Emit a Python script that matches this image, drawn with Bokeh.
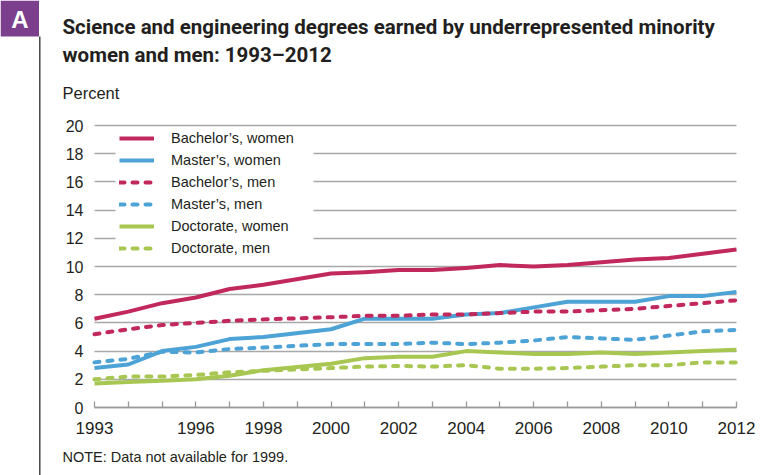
from bokeh.plotting import figure
from bokeh.models import (Label, BoxAnnotation, Legend, LegendItem, FixedTicker,
                          Grid, Range1d)
from bokeh.embed import file_html
from bokeh.resources import INLINE

years = [1993, 1994, 1995, 1996, 1997, 1998, 2000, 2001, 2002, 2003, 2004,
         2005, 2006, 2007, 2008, 2009, 2010, 2011, 2012]
bach_w = [6.3, 6.8, 7.4, 7.8, 8.4, 8.7, 9.5, 9.6, 9.75, 9.75, 9.9, 10.1,
          10.0, 10.1, 10.3, 10.5, 10.6, 10.9, 11.2]
mast_w = [2.8, 3.05, 4.0, 4.3, 4.85, 5.0, 5.55, 6.3, 6.3, 6.3, 6.6, 6.7,
          7.1, 7.5, 7.5, 7.5, 7.9, 7.9, 8.2]
bach_m = [5.2, 5.55, 5.85, 6.0, 6.15, 6.25, 6.4, 6.5, 6.5, 6.6, 6.6, 6.7,
          6.8, 6.8, 6.9, 7.0, 7.2, 7.4, 7.6]
mast_m = [3.2, 3.45, 3.95, 3.9, 4.15, 4.25, 4.5, 4.5, 4.5, 4.6, 4.5, 4.6,
          4.75, 5.0, 4.9, 4.8, 5.1, 5.4, 5.5]
doc_w = [1.7, 1.8, 1.9, 2.0, 2.25, 2.65, 3.1, 3.5, 3.6, 3.6, 4.0, 3.9,
         3.8, 3.8, 3.9, 3.8, 3.9, 4.0, 4.1]
doc_m = [2.0, 2.2, 2.2, 2.3, 2.5, 2.6, 2.8, 2.9, 2.95, 2.9, 3.0, 2.75,
         2.75, 2.8, 2.9, 3.0, 3.0, 3.2, 3.2]

series_names = ["Bachelor\u2019s, women", "Master\u2019s, women", "Bachelor\u2019s, men",
                "Master\u2019s, men", "Doctorate, women", "Doctorate, men"]
series_values = [bach_w, mast_w, bach_m, mast_m, doc_w, doc_m]

x_ticks = list(range(1993, 2013))
x_labeled = [1993, 1996, 1998, 2000, 2002, 2004, 2006, 2008, 2010, 2012]
y_ticks = [0, 2, 4, 6, 8, 10, 12, 14, 16, 18, 20]

badge = "A"
title_1 = "Science and engineering degrees earned by underrepresented minority"
title_2 = "women and men: 1993\u20132012"
y_unit = "Percent"
note = "NOTE: Data not available for 1999."

RED = "#C1285B"
BLUE = "#4DA3D6"
GREEN = "#A8C752"
PURPLE = "#7B3F8E"
colors = [RED, BLUE, RED, BLUE, GREEN, GREEN]
dashes = ["solid", "solid", "5 8", "5 8", "solid", "5 8"]

TXT = "#231F20"
FONT = "Liberation Sans"
TFONT = "Roboto"

W, H = 771, 475
# plot area in page pixels: x 94..736, y 125..407
X0, X1 = min(x_ticks), max(x_ticks)
Y0, Y1 = min(y_ticks), max(y_ticks)
px_per_x = (736 - 94) / (X1 - X0)
px_per_y = (407 - 125) / (Y1 - Y0)

p = figure(width=W, height=H, output_backend="svg", toolbar_location=None,
           x_range=Range1d(X0 - 94 / px_per_x, X1 + (W - 736) / px_per_x),
           y_range=Range1d(Y0 - (H - 407) / px_per_y, Y1 + 125 / px_per_y),
           min_border=0)
p.outline_line_color = None
p.background_fill_color = "white"
p.border_fill_color = "white"

# grid
p.xgrid.grid_line_color = None
p.ygrid.ticker = FixedTicker(ticks=y_ticks)
if "cross_bounds" in Grid.properties():
    p.ygrid.grid_line_color = "#A8A8A8"
    p.ygrid.grid_line_width = 1.3
    p.ygrid.cross_bounds = (X0, X1)
else:
    p.ygrid.grid_line_color = None
    p.segment(x0=[X0] * len(y_ticks), x1=[X1] * len(y_ticks), y0=y_ticks,
              y1=y_ticks, line_color="#A8A8A8", line_width=1.3, level="underlay")

# y axis (fixed at first year)
p.yaxis.fixed_location = X0
p.yaxis.ticker = FixedTicker(ticks=y_ticks)
p.yaxis.axis_line_color = None
p.yaxis.major_tick_line_color = None
p.yaxis.major_tick_in = 0
p.yaxis.major_tick_out = 0
p.yaxis.minor_tick_line_color = None
p.yaxis.minor_tick_out = 0
p.yaxis.major_label_standoff = 11
p.yaxis.major_label_text_font = FONT
p.yaxis.major_label_text_font_size = "16px"
p.yaxis.major_label_text_color = TXT

# x axis (fixed at 0)
p.xaxis.fixed_location = Y0
p.xaxis.bounds = (X0, X1)
p.xaxis.ticker = FixedTicker(ticks=x_ticks)
p.xaxis.major_label_overrides = {t: (str(t) if t in x_labeled else "") for t in x_ticks}
p.xaxis.axis_line_color = "#999999"
p.xaxis.axis_line_width = 1.5
p.xaxis.major_tick_line_color = "#999999"
p.xaxis.major_tick_line_width = 1.3
p.xaxis.major_tick_in = 6
p.xaxis.major_tick_out = 0
p.xaxis.minor_tick_line_color = None
p.xaxis.minor_tick_out = 0
p.xaxis.major_label_standoff = 14
p.xaxis.major_label_text_font = FONT
p.xaxis.major_label_text_font_size = "17px"
p.xaxis.major_label_text_color = TXT


def sbox(left, right, bottom, top, color):
    return BoxAnnotation(left=left, right=right, bottom=bottom, top=top,
                         left_units="screen", right_units="screen",
                         bottom_units="screen", top_units="screen",
                         fill_color=color, fill_alpha=1.0, line_color=None)


# white area behind the legend (breaks the gridlines)
p.add_layout(sbox(115, 313, H - 262, H - 128, "white"))

items = []
for name, vals, col, dash in zip(series_names, series_values, colors, dashes):
    r = p.line(years, vals, line_color=col, line_width=4, line_dash=dash,
               line_cap="round" if dash != "solid" else "butt", line_join="round")
    items.append(LegendItem(label=name, renderers=[r]))

legend = Legend(items=items, location=(119, H - 256.5), padding=0, margin=0,
                border_line_color=None, background_fill_alpha=0,
                glyph_width=35, glyph_height=18, label_height=18, spacing=4,
                label_standoff=17, label_text_font=FONT,
                label_text_font_size="14.5px", label_text_color=TXT)
p.add_layout(legend, "center")

# badge and side rule
p.add_layout(sbox(0, 38.5, H - 36, H, PURPLE))
p.add_layout(sbox(38.6, 40, 0, H - 36, "#3A3A3A"))
p.add_layout(Label(x=19.5, y=H - 18.5, x_units="screen", y_units="screen",
                   text=badge, text_font=FONT, text_font_style="bold",
                   text_font_size="24px", text_color="white",
                   text_align="center", text_baseline="middle"))

# titles and notes (y = distance of text anchor from the bottom of the canvas)
for txt, ypos in [(title_1, 448.5), (title_2, 420.5)]:
    p.add_layout(Label(x=62, y=ypos, x_units="screen", y_units="screen",
                       text=txt, text_font=TFONT, text_font_style="bold",
                       text_font_size="20.5px", text_color=TXT,
                       text_baseline="alphabetic"))
p.add_layout(Label(x=62, y=383, x_units="screen", y_units="screen",
                   text=y_unit, text_font=FONT, text_font_size="16.5px",
                   text_color=TXT, text_baseline="alphabetic"))
p.add_layout(Label(x=62, y=18.5, x_units="screen", y_units="screen",
                   text=note, text_font=FONT, text_font_size="14.5px",
                   text_color=TXT, text_baseline="alphabetic"))

open("out.html", "w").write(file_html(p, INLINE))
